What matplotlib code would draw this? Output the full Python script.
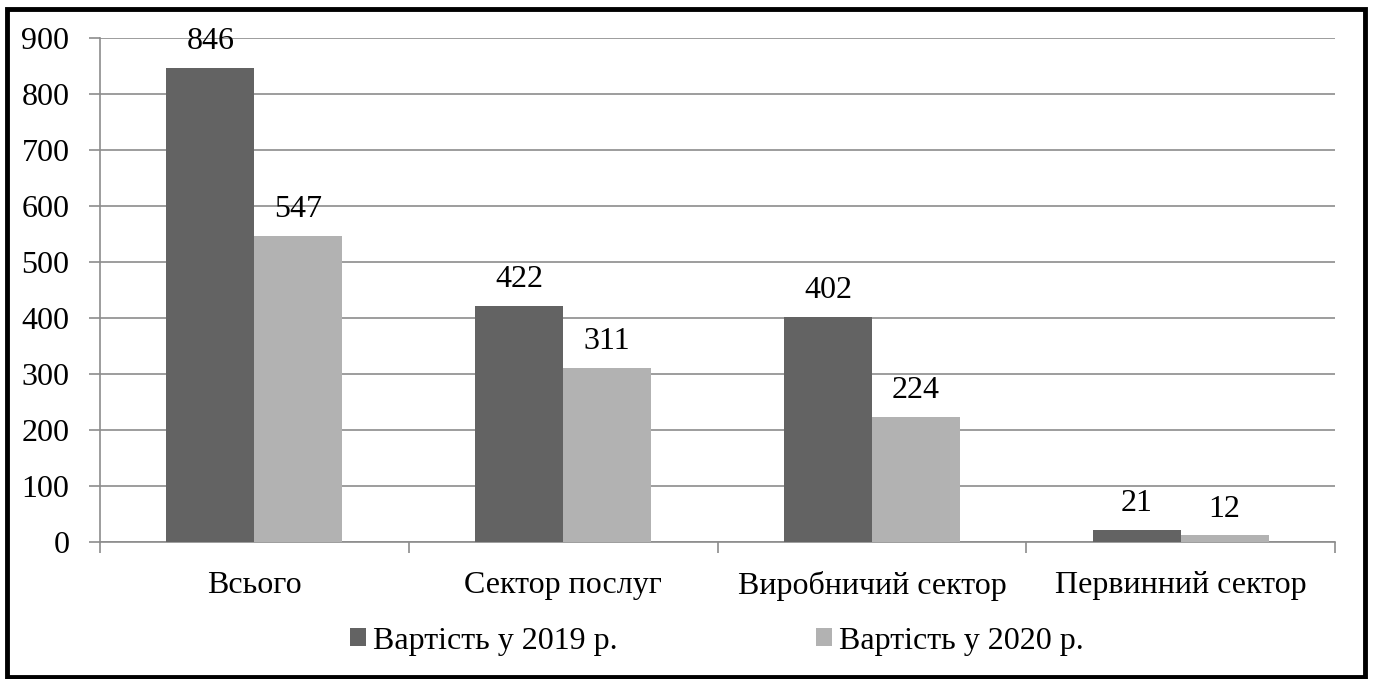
import matplotlib.pyplot as plt
import numpy as np
from matplotlib.patches import Rectangle

# Дані з діаграми
categories = ['Всього', 'Сектор послуг', 'Виробничий сектор', 'Первинний сектор']
values_2019 = [846, 422, 402, 21]
values_2020 = [547, 311, 224, 12]
series_labels = ['Вартість у 2019 р.', 'Вартість у 2020 р.']
y_ticks = [0, 100, 200, 300, 400, 500, 600, 700, 800, 900]

plt.rcParams['font.family'] = ['Liberation Serif', 'DejaVu Serif']
FS = 23

fig = plt.figure(figsize=(13.73, 6.79), dpi=100)
ax = fig.add_axes([100 / 1373, 137 / 679, 1235 / 1373, 504 / 679])

x = np.arange(len(categories))
w = 0.285
b1 = ax.bar(x - w / 2, values_2019, w, color='#636363', label=series_labels[0], zorder=3)
b2 = ax.bar(x + w / 2, values_2020, w, color='#b2b2b2', label=series_labels[1], zorder=3)

# Підписи значень над стовпчиками
for bars in (b1, b2):
    for rect in bars:
        h = rect.get_height()
        ax.annotate(f'{h:.0f}', (rect.get_x() + rect.get_width() / 2, h),
                    xytext=(0, 13.5), textcoords='offset points',
                    ha='center', va='baseline', fontsize=FS)

ax.set_xlim(-0.5, len(categories) - 0.5)
ax.set_ylim(0, 900)
ax.set_yticks(y_ticks)
ax.set_yticklabels([str(t) for t in y_ticks], fontsize=FS)
ax.set_xticks(x)
ax.set_xticklabels(categories, fontsize=FS)
ax.set_xticks(np.arange(-0.5, len(categories)), minor=True)

ax.tick_params(axis='x', which='major', length=0, pad=21)
ax.tick_params(axis='x', which='minor', length=8, color='#8c8c8c', width=1.2)
ax.tick_params(axis='y', length=8, color='#8c8c8c', width=1.2, pad=14)

ax.grid(axis='y', color='#8c8c8c', linewidth=1.2, zorder=0)
for s in ('top', 'right'):
    ax.spines[s].set_visible(False)
for s in ('left', 'bottom'):
    ax.spines[s].set_color('#8c8c8c')
    ax.spines[s].set_linewidth(1.2)

fig.legend(loc='center', bbox_to_anchor=(717 / 1373, 1 - 641 / 679), ncol=2,
           frameon=False, fontsize=FS, handlelength=0.5, handleheight=0.5,
           handletextpad=0.22, columnspacing=6.2)

# Чорна рамка навколо діаграми
fig.patches.append(Rectangle((7 / 1373, 2 / 679), 1358 / 1373, 668 / 679,
                             transform=fig.transFigure, fill=False,
                             edgecolor='black', linewidth=3.5))

fig.savefig('out.png', dpi=100)
